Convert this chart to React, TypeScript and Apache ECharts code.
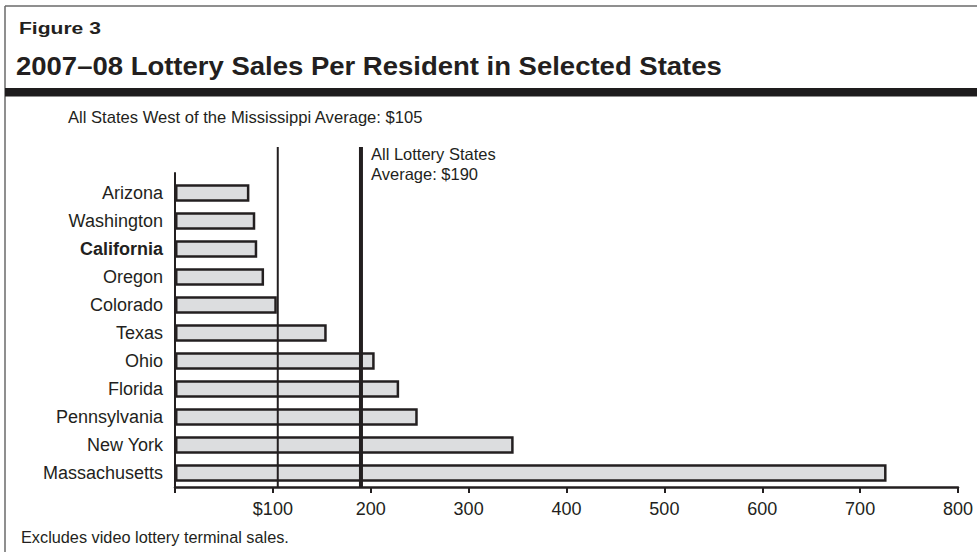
import React, { useEffect, useRef } from "react";
import * as echarts from "echarts";

// ---- data ----
const states = [
  "Arizona",
  "Washington",
  "California",
  "Oregon",
  "Colorado",
  "Texas",
  "Ohio",
  "Florida",
  "Pennsylvania",
  "New York",
  "Massachusetts",
];
const salesPerResident = [76, 82, 84, 91, 104, 155, 204, 229, 248, 346, 727];
const highlightState = "California";
const westAverage = 105;
const allStatesAverage = 190;
const axisMin = 0;
const axisMax = 800;
const axisInterval = 100;

// ---- texts ----
const figureLabel = "Figure 3";
const titleText = "2007–08 Lottery Sales Per Resident in Selected States";
const westText = "All States West of the Mississippi Average: $105";
const allStatesLine1 = "All Lottery States";
const allStatesLine2 = "Average: $190";
const footnote = "Excludes video lottery terminal sales.";

const FONT = '"Liberation Sans", Arial, Helvetica, sans-serif';
const INK = "#231f20";

export default function App() {
  const ref = useRef<HTMLDivElement>(null);

  useEffect(() => {
    if (!ref.current) return;
    const chart = echarts.init(ref.current, undefined, { renderer: "svg" });

    const gridLeft = 175;
    const gridRight = 19;
    const gridBottom = 65;

    const option: any = {
      animation: false,
      backgroundColor: "#ffffff",
      textStyle: { fontFamily: FONT, color: INK },
      grid: [
        // bars
        { left: gridLeft, right: gridRight, top: 179, bottom: gridBottom, containLabel: false },
        // average lines (extend higher)
        { left: gridLeft, right: gridRight, top: 147, bottom: gridBottom, containLabel: false },
        // vertical axis line (extends a bit above bars)
        { left: gridLeft, right: gridRight, top: 173, bottom: gridBottom, containLabel: false },
      ],
      xAxis: [
        {
          gridIndex: 0,
          type: "value",
          min: axisMin,
          max: axisMax,
          interval: axisInterval,
          axisLine: { show: true, lineStyle: { color: INK, width: 2.5 } },
          axisTick: { show: true, length: 6, lineStyle: { color: INK, width: 2 } },
          splitLine: { show: false },
          axisLabel: {
            show: true,
            margin: 13,
            fontSize: 18,
            fontFamily: FONT,
            color: INK,
            formatter: (v: number) => (v === 0 ? "" : v === 100 ? "$" + v : String(v)),
          },
          z: 5,
        },
        { gridIndex: 1, type: "value", min: axisMin, max: axisMax, show: false },
        { gridIndex: 2, type: "value", min: axisMin, max: axisMax, show: false },
      ],
      yAxis: [
        {
          gridIndex: 0,
          type: "category",
          data: states,
          inverse: true,
          axisLine: { show: false },
          axisTick: { show: false },
          splitLine: { show: false },
          axisLabel: {
            margin: 12,
            fontSize: 18,
            fontFamily: FONT,
            color: INK,
            formatter: (v: string) => (v === highlightState ? "{b|" + v + "}" : v),
            rich: {
              b: { fontWeight: "bold", fontSize: 18, fontFamily: FONT, color: INK },
            },
          },
        },
        { gridIndex: 1, type: "value", min: 0, max: 1, show: false },
        {
          gridIndex: 2,
          type: "value",
          min: 0,
          max: 1,
          axisLine: { show: true, lineStyle: { color: INK, width: 2 } },
          axisTick: { show: false },
          axisLabel: { show: false },
          splitLine: { show: false },
          z: 6,
        },
      ],
      series: [
        {
          type: "bar",
          xAxisIndex: 0,
          yAxisIndex: 0,
          data: salesPerResident,
          barWidth: 17.5,
          itemStyle: { color: "#dcdddf", borderColor: INK, borderWidth: 2.5 },
          z: 2,
        },
        {
          type: "line",
          xAxisIndex: 1,
          yAxisIndex: 1,
          data: [
            [westAverage, 0],
            [westAverage, 1],
          ],
          symbol: "none",
          lineStyle: { color: INK, width: 2 },
          z: 4,
          silent: true,
        },
        {
          type: "line",
          xAxisIndex: 1,
          yAxisIndex: 1,
          data: [
            [allStatesAverage, 0],
            [allStatesAverage, 1],
          ],
          symbol: "none",
          lineStyle: { color: INK, width: 4 },
          z: 4,
          silent: true,
        },
      ],
      graphic: [
        // frame
        { type: "line", shape: { x1: 5, y1: 6, x2: 977, y2: 6 }, style: { stroke: "#6a6a6a", lineWidth: 1.5 } },
        { type: "line", shape: { x1: 5, y1: 6, x2: 5, y2: 552 }, style: { stroke: "#6a6a6a", lineWidth: 1.5 } },
        { type: "rect", shape: { x: 5, y: 88, width: 972, height: 8.5 }, style: { fill: "#1e1c1d" } },
        {
          type: "text",
          x: 19,
          y: 28.2,
          scaleX: 1.24,
          style: { text: figureLabel, fontFamily: FONT, fontWeight: "bold", fontSize: 17, fill: INK, verticalAlign: "middle", align: "left" },
        },
        {
          type: "text",
          x: 16,
          y: 66.3,
          scaleX: 1.1,
          style: { text: titleText, fontFamily: FONT, fontWeight: "bold", fontSize: 25, fill: INK, verticalAlign: "middle", align: "left" },
        },
        {
          type: "text",
          x: 68,
          y: 117.5,
          style: { text: westText, fontFamily: FONT, fontSize: 16.6, fill: INK, verticalAlign: "middle", align: "left" },
        },
        {
          type: "text",
          x: 371,
          y: 154.3,
          style: { text: allStatesLine1, fontFamily: FONT, fontSize: 16.5, fill: INK, verticalAlign: "middle", align: "left" },
        },
        {
          type: "text",
          x: 371,
          y: 174.3,
          style: { text: allStatesLine2, fontFamily: FONT, fontSize: 16.5, fill: INK, verticalAlign: "middle", align: "left" },
        },
        {
          type: "text",
          x: 21,
          y: 536.5,
          style: { text: footnote, fontFamily: FONT, fontSize: 16.3, fill: INK, verticalAlign: "middle", align: "left" },
        },
      ],
    };

    chart.setOption(option);
    return () => chart.dispose();
  }, []);

  return (
    <div
      ref={ref}
      style={{ position: "fixed", left: 0, top: 0, width: 977, height: 552, background: "#fff" }}
    />
  );
}
